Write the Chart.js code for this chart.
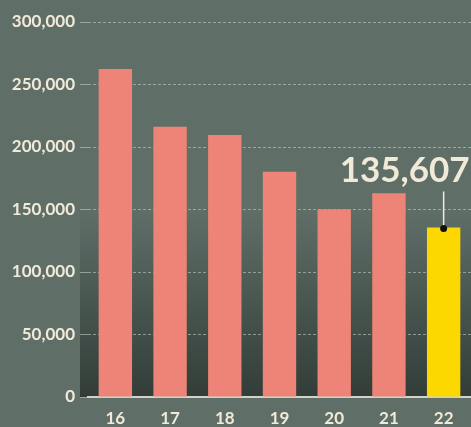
<!DOCTYPE html>
<html>
<head>
<meta charset="utf-8">
<script src="https://cdn.jsdelivr.net/npm/chart.js@4.4.0/dist/chart.umd.min.js"></script>
<style>
  html, body { margin: 0; padding: 0; background: #5f6f68; }
  #wrap { width: 471px; height: 427px; }
</style>
</head>
<body>
<div id="wrap"><canvas id="chart" width="471" height="427"></canvas></div>
<script>
// years (20xx) and yearly totals
const years = ['16', '17', '18', '19', '20', '21', '22'];
const totals = [262400, 216200, 209600, 180200, 150200, 163000, 135607];
const yTicks = [0, 50000, 100000, 150000, 200000, 250000, 300000];

const BG = '#5f6f68';
const CREAM = '#f1ead8';
const SALMON = '#ee8478';
const YELLOW = '#fdd800';
const GRID = 'rgba(205,212,206,0.55)';

/**
 * Background fill plus the dark fade at the foot of the plot.
 */
const backdrop = {
    id: 'backdrop',
    beforeDraw(chart) {
        const { ctx, chartArea } = chart;
        ctx.save();
        ctx.fillStyle = BG;
        ctx.fillRect(0, 0, chart.width, chart.height);
        const top = chartArea.top + (chartArea.bottom - chartArea.top) * 0.5;
        const g = ctx.createLinearGradient(0, top, 0, chartArea.bottom);
        g.addColorStop(0, 'rgba(50,61,56,0)');
        g.addColorStop(1, 'rgba(50,61,56,1)');
        ctx.fillStyle = g;
        ctx.fillRect(chartArea.left - 8, top, chartArea.right - chartArea.left + 8, chartArea.bottom - top);
        ctx.restore();
    }
};

/**
 * Callout for the latest year.
 */
const callout = {
    id: 'callout',
    afterDatasetsDraw(chart) {
        const { ctx } = chart;
        const last = totals.length - 1;
        const bar = chart.getDatasetMeta(0).data[last];
        const x = bar.x, y = bar.y;
        ctx.save();
        ctx.strokeStyle = CREAM;
        ctx.lineWidth = 1.5;
        ctx.beginPath();
        ctx.moveTo(x, y - 36);
        ctx.lineTo(x, y);
        ctx.stroke();
        ctx.fillStyle = '#111';
        ctx.beginPath();
        ctx.arc(x, y + 1, 3.5, 0, Math.PI * 2);
        ctx.fill();
        ctx.fillStyle = CREAM;
        ctx.font = 'bold 35px Lato';
        ctx.textAlign = 'right';
        ctx.textBaseline = 'alphabetic';
        ctx.fillText(totals[last].toLocaleString('en-US'), x + 26, y - 45);
        ctx.restore();
    }
};

new Chart(document.getElementById('chart'), {
    type: 'bar',
    data: {
        labels: years,
        datasets: [{
            data: totals,
            backgroundColor: c => c.dataIndex === totals.length - 1 ? YELLOW : SALMON,
            borderWidth: 0,
            categoryPercentage: 1,
            barPercentage: 0.61
        }]
    },
    options: {
        responsive: false,
        animation: false,
        layout: { padding: { top: 22, right: 0, left: 0, bottom: 0 } },
        plugins: {
            legend: { display: false },
            tooltip: { enabled: false }
        },
        scales: {
            x: {
                grid: { display: false, drawTicks: false },
                border: { display: true, color: '#cfd3cb', width: 2 },
                ticks: {
                    color: CREAM,
                    padding: 11,
                    font: { family: 'Lato', weight: 'bold', size: 17 }
                },
                afterFit: s => { s.height = 30; }
            },
            y: {
                min: 0,
                max: 300000,
                afterBuildTicks: s => { s.ticks = yTicks.map(v => ({ value: v })); },
                afterFit: s => { s.width = 88; },
                border: { display: false, dash: [3, 2] },
                grid: {
                    color: GRID,
                    lineWidth: 1,
                    tickLength: 8,
                    tickColor: GRID
                },
                ticks: {
                    color: CREAM,
                    padding: 5,
                    font: { family: 'Lato', weight: 'bold', size: 17 },
                    callback: v => v.toLocaleString('en-US')
                }
            }
        }
    },
    plugins: [backdrop, callout]
});
</script>
</body>
</html>
